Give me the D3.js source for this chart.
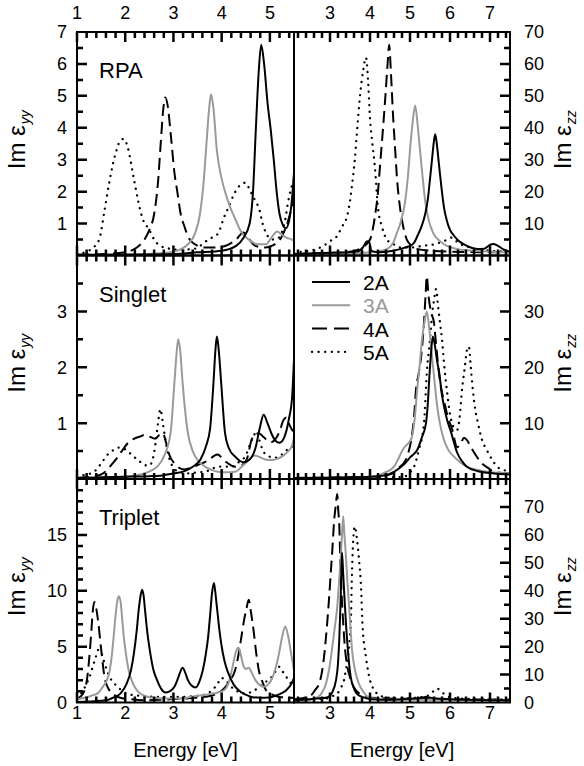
<!DOCTYPE html>
<html>
<head>
<meta charset="utf-8">
<script src="https://cdn.jsdelivr.net/npm/d3@7/dist/d3.min.js"></script>
<style>
  body { margin: 0; background: #fff; }
  text { font-family: "Liberation Sans", Arial, sans-serif; fill: #000; }
</style>
</head>
<body>
<svg id="chart" width="584" height="766"></svg>
<script>
// ---- data: [energy (eV), Im eps] ----
const seriesNames = ["2A", "3A", "4A", "5A"];
const panelLabels = ["RPA", "Singlet", "Triplet"];
const leftXTicks = [1, 2, 3, 4, 5];
const rightXTicks = [3, 4, 5, 6, 7];

// RPA, eps_yy
const rpaYY2A = [[1.0,0.02],[2.0,0.03],[3.0,0.05],[3.5,0.1],[4.0,0.15],[4.3,0.3],[4.45,0.55],[4.58,1.0],[4.65,2.0],[4.71,4.0],[4.77,5.8],[4.82,6.6],[4.88,6.0],[4.95,4.8],[5.02,3.9],[5.08,3.0],[5.14,2.0],[5.2,1.3],[5.27,0.95],[5.33,0.85],[5.4,1.1],[5.46,1.8],[5.5,2.6]];
const rpaYY3A = [[1.0,0.0],[2.0,0.02],[2.5,0.05],[3.0,0.12],[3.3,0.35],[3.45,0.7],[3.55,1.3],[3.62,2.2],[3.68,3.4],[3.74,4.6],[3.78,5.05],[3.83,4.6],[3.9,3.3],[4.0,2.4],[4.07,2.0],[4.18,1.5],[4.28,1.15],[4.4,0.75],[4.56,0.5],[4.75,0.35],[4.92,0.35],[5.05,0.6],[5.15,0.75],[5.25,0.65],[5.35,0.55],[5.46,0.5],[5.5,0.45]];
const rpaYY4A = [[1.0,0.02],[1.6,0.05],[2.0,0.1],[2.24,0.25],[2.4,0.5],[2.5,0.8],[2.6,1.3],[2.68,2.3],[2.74,3.6],[2.79,4.6],[2.83,4.95],[2.88,4.7],[2.95,3.7],[3.02,2.6],[3.08,2.0],[3.15,1.3],[3.23,0.9],[3.3,0.6],[3.4,0.4],[3.65,0.25],[3.9,0.25],[4.15,0.35],[4.3,0.5],[4.45,0.72],[4.55,0.55],[4.7,0.3],[4.9,0.25],[5.1,0.35],[5.25,0.6],[5.38,1.1],[5.5,1.8]];
const rpaYY5A = [[1.0,0.05],[1.2,0.12],[1.34,0.25],[1.46,0.5],[1.57,1.4],[1.67,2.3],[1.75,2.9],[1.82,3.3],[1.9,3.6],[1.97,3.65],[2.05,3.4],[2.18,2.4],[2.27,1.7],[2.35,1.2],[2.5,0.8],[2.6,0.5],[2.73,0.3],[2.9,0.22],[3.1,0.18],[3.4,0.2],[3.6,0.35],[3.72,0.5],[3.85,0.6],[3.93,0.7],[4.05,1.2],[4.14,1.5],[4.25,1.9],[4.35,2.15],[4.49,2.28],[4.6,2.0],[4.7,1.7],[4.77,1.5],[4.85,1.0],[4.92,0.7],[5.05,0.5],[5.18,0.55],[5.3,1.0],[5.4,1.85],[5.5,2.4]];

// RPA, eps_zz
const rpaZZ2A = [[2.1,0.5],[2.8,0.8],[3.4,1.0],[3.7,1.3],[3.82,2.5],[3.93,4.5],[3.98,4.2],[4.03,1.5],[4.2,1.0],[4.5,1.3],[4.75,2.0],[4.9,2.6],[5.0,3],[5.1,4],[5.2,6.5],[5.3,9.5],[5.38,13],[5.45,18],[5.5,24],[5.55,30],[5.6,36],[5.63,38],[5.67,35],[5.72,29],[5.78,22],[5.85,15],[5.92,11],[6.0,8],[6.08,6.5],[6.2,4.8],[6.35,3.5],[6.5,2.6],[6.7,2.0],[6.85,2.1],[6.98,3.2],[7.08,3.6],[7.2,3.0],[7.35,1.8],[7.5,1.2]];
const rpaZZ3A = [[2.1,0.3],[3.0,0.5],[3.8,0.8],[4.2,1.3],[4.42,2],[4.58,4],[4.67,7],[4.78,11],[4.88,17],[4.95,25],[5.0,33],[5.06,41],[5.13,47],[5.19,41],[5.25,33],[5.32,24],[5.38,17],[5.47,11],[5.58,7],[5.75,4.5],[5.92,3],[6.2,2],[6.6,1.5],[7.0,1.2],[7.5,1.0]];
const rpaZZ4A = [[2.1,0.5],[3.0,0.8],[3.5,1.2],[3.8,2.5],[4.0,5],[4.12,12],[4.2,20],[4.25,28],[4.32,39],[4.38,49],[4.44,60],[4.48,66],[4.52,58],[4.58,43],[4.63,33],[4.67,25],[4.74,16],[4.8,11],[4.92,5],[5.05,3],[5.2,2],[5.5,1.5],[6.0,1.2],[7.5,1.0]];
const rpaZZ5A = [[2.1,1],[2.5,1.5],[2.83,3],[3.0,4.5],[3.17,6],[3.3,9],[3.42,12],[3.5,17],[3.55,22],[3.62,30],[3.67,38],[3.75,50],[3.83,58],[3.9,62],[3.95,55],[4.0,43],[4.06,35],[4.12,28],[4.2,15],[4.3,9],[4.42,5],[4.6,3.5],[4.75,2.5],[5.0,2.5],[5.3,3],[5.6,3.5],[5.85,4.5],[6.05,5.6],[6.2,4],[6.5,2.5],[7.0,1.5],[7.5,1.2]];

// Singlet, eps_yy
const sinYY2A = [[1.0,0.02],[1.5,0.03],[2.0,0.04],[2.5,0.05],[2.73,0.06],[3.0,0.1],[3.23,0.14],[3.4,0.22],[3.56,0.35],[3.68,0.6],[3.76,0.9],[3.83,1.72],[3.87,2.3],[3.9,2.55],[3.94,2.3],[3.99,1.72],[4.07,0.82],[4.15,0.55],[4.28,0.4],[4.45,0.3],[4.58,0.35],[4.7,0.55],[4.8,0.95],[4.87,1.15],[4.95,1.0],[5.04,0.8],[5.12,0.68],[5.2,0.65],[5.3,0.75],[5.4,1.1],[5.46,1.45],[5.5,2.15]];
const sinYY3A = [[1.0,0.01],[1.5,0.02],[2.1,0.05],[2.56,0.16],[2.8,0.4],[2.94,0.82],[3.02,1.72],[3.07,2.3],[3.1,2.5],[3.14,2.3],[3.19,1.72],[3.3,0.82],[3.4,0.5],[3.5,0.34],[3.7,0.2],[3.92,0.13],[4.1,0.12],[4.28,0.13],[4.45,0.25],[4.56,0.34],[4.68,0.42],[4.77,0.4],[4.9,0.35],[5.04,0.34],[5.15,0.36],[5.25,0.4],[5.36,0.48],[5.46,0.6],[5.5,0.75]];
const sinYY4A = [[1.0,0.02],[1.2,0.03],[1.5,0.08],[1.74,0.28],[1.85,0.4],[1.97,0.55],[2.05,0.64],[2.18,0.72],[2.31,0.76],[2.4,0.79],[2.5,0.76],[2.62,0.72],[2.72,0.8],[2.78,0.82],[2.85,0.64],[2.92,0.42],[3.02,0.28],[3.12,0.2],[3.23,0.17],[3.35,0.2],[3.5,0.25],[3.65,0.3],[3.76,0.36],[3.85,0.42],[3.92,0.44],[4.0,0.38],[4.1,0.3],[4.28,0.22],[4.42,0.25],[4.52,0.35],[4.62,0.7],[4.7,0.8],[4.77,0.82],[4.87,0.75],[4.96,0.68],[5.04,0.66],[5.12,0.72],[5.2,0.85],[5.28,1.05],[5.34,1.1],[5.4,0.98],[5.46,0.88],[5.5,0.85]];
const sinYY5A = [[1.0,0.05],[1.2,0.08],[1.34,0.12],[1.45,0.22],[1.55,0.34],[1.65,0.45],[1.76,0.52],[1.85,0.56],[1.95,0.55],[2.05,0.5],[2.15,0.42],[2.28,0.33],[2.4,0.25],[2.5,0.24],[2.57,0.35],[2.63,0.65],[2.68,1.0],[2.73,1.25],[2.78,1.0],[2.83,0.72],[2.9,0.42],[3.02,0.18],[3.15,0.12],[3.3,0.1],[3.5,0.12],[3.65,0.13],[3.8,0.18],[3.92,0.22],[4.1,0.22],[4.2,0.22],[4.35,0.3],[4.5,0.42],[4.6,0.65],[4.68,0.8],[4.73,0.85],[4.78,0.7],[4.85,0.52],[4.95,0.42],[5.1,0.38],[5.19,0.4],[5.3,0.48],[5.4,0.55],[5.5,0.6]];

// Singlet, eps_zz
const sinZZ2A = [[2.1,0.2],[3.5,0.3],[4.2,0.5],[4.43,0.7],[4.6,1.3],[4.78,2.2],[4.9,3],[5.02,4],[5.1,4.5],[5.18,5.2],[5.3,7.5],[5.4,10],[5.45,14],[5.48,17.8],[5.52,22],[5.57,25.5],[5.62,24],[5.68,21],[5.73,19],[5.8,15],[5.85,13],[5.93,10.5],[6.03,8.3],[6.1,6.5],[6.18,4.7],[6.3,3.2],[6.42,2.2],[6.7,1.4],[7.1,1],[7.5,0.8]];
const sinZZ3A = [[2.1,0.2],[3.5,0.2],[4.03,0.3],[4.2,0.6],[4.35,1.1],[4.5,1.6],[4.6,2.2],[4.7,3.5],[4.78,4.7],[4.85,5.6],[4.92,6.1],[5.0,6.8],[5.05,7.6],[5.12,11],[5.18,16],[5.25,21],[5.3,25],[5.36,28],[5.42,30],[5.48,27],[5.55,22],[5.62,17],[5.68,13],[5.76,9.5],[5.85,7],[5.95,5.3],[6.1,4],[6.25,3],[6.42,2.2],[6.7,1.6],[6.92,1.3],[7.5,1.0]];
const sinZZ4A = [[2.1,0.2],[3.5,0.3],[4.18,0.4],[4.4,0.7],[4.6,1.1],[4.75,2.2],[4.85,2.9],[4.95,4.5],[5.03,7],[5.1,11],[5.15,16],[5.22,19],[5.28,22],[5.35,28],[5.39,33],[5.42,36.3],[5.46,33],[5.52,30],[5.6,28],[5.64,25],[5.68,22],[5.76,17],[5.85,14],[5.95,11],[6.05,9],[6.18,5.7],[6.28,6.5],[6.35,7.4],[6.42,7.0],[6.52,5.7],[6.65,4.2],[6.78,2.9],[6.95,2.0],[7.1,1.3],[7.5,1.0]];
const sinZZ5A = [[2.1,0.1],[4.0,0.2],[4.5,0.3],[4.85,0.4],[5.0,1.2],[5.1,2.2],[5.22,5.2],[5.35,10],[5.42,19],[5.5,25],[5.56,30],[5.6,32],[5.65,34],[5.7,31],[5.75,28],[5.8,25],[5.86,20],[5.92,16],[5.98,12.5],[6.05,10],[6.12,9],[6.18,8.8],[6.24,11],[6.3,16],[6.37,20],[6.42,23],[6.47,23.7],[6.52,20],[6.57,16],[6.63,12.5],[6.7,10],[6.8,7],[6.92,5.2],[7.05,3.5],[7.18,2.2],[7.35,1.6],[7.5,1.3]];

// Triplet, eps_yy
const triYY2A = [[1.0,0.05],[1.5,0.15],[1.65,0.25],[1.76,0.45],[1.9,0.8],[2.03,1.7],[2.12,2.9],[2.18,4.4],[2.24,6.5],[2.28,8.3],[2.32,9.6],[2.35,10.1],[2.38,9.6],[2.41,8.3],[2.46,6.2],[2.52,4.4],[2.58,3.0],[2.66,2.0],[2.75,1.2],[2.83,0.9],[2.92,1.0],[3.02,1.4],[3.08,2.0],[3.13,2.6],[3.19,3.1],[3.25,2.6],[3.3,2.0],[3.38,1.5],[3.46,1.35],[3.54,1.9],[3.61,2.9],[3.67,4.3],[3.72,5.9],[3.76,7.8],[3.8,9.8],[3.84,10.7],[3.87,9.8],[3.9,8.6],[3.95,6.6],[3.99,5.3],[4.06,3.7],[4.14,2.6],[4.25,1.6],[4.35,1.1],[4.5,0.7],[4.62,0.5],[4.8,0.42],[4.98,0.45],[5.15,0.65],[5.25,0.85],[5.34,1.1],[5.45,1.7],[5.5,2.2]];
const triYY3A = [[1.0,0.3],[1.3,0.6],[1.45,0.9],[1.55,1.5],[1.61,1.9],[1.68,2.9],[1.73,4.5],[1.76,5.9],[1.8,7.8],[1.84,9.2],[1.87,9.5],[1.91,8.8],[1.94,7.3],[1.97,5.9],[2.02,4.2],[2.07,2.9],[2.15,1.8],[2.24,1.1],[2.35,0.7],[2.52,0.45],[2.8,0.35],[3.08,0.35],[3.3,0.45],[3.5,0.6],[3.75,0.75],[3.92,0.9],[4.05,1.1],[4.14,1.7],[4.2,2.7],[4.24,3.5],[4.3,4.6],[4.35,4.9],[4.4,4.2],[4.45,3.3],[4.5,3.0],[4.56,3.1],[4.63,2.6],[4.7,2.0],[4.78,1.6],[4.87,1.4],[4.96,1.6],[5.04,2.1],[5.12,3.1],[5.19,4.4],[5.25,5.8],[5.32,6.8],[5.38,5.9],[5.44,4.4],[5.5,2.9]];
const triYY4A = [[1.0,0.3],[1.15,1.0],[1.22,2.5],[1.29,5.9],[1.33,8.3],[1.36,9.0],[1.4,8.4],[1.44,7.2],[1.51,4.4],[1.57,2.3],[1.67,1.1],[1.8,0.6],[1.88,0.45],[2.1,0.3],[2.39,0.2],[2.8,0.25],[3.2,0.35],[3.5,0.45],[3.78,0.6],[3.95,0.9],[4.07,1.35],[4.18,2.0],[4.28,2.9],[4.35,4.3],[4.41,5.9],[4.47,7.5],[4.51,8.3],[4.56,9.2],[4.6,8.3],[4.66,6.5],[4.72,4.3],[4.77,2.9],[4.85,1.8],[4.92,1.1],[5.05,0.7],[5.2,0.5],[5.35,0.45],[5.5,0.4]];
const triYY5A = [[1.0,0.4],[1.1,0.9],[1.2,1.7],[1.27,2.4],[1.34,3.4],[1.4,4.2],[1.44,4.7],[1.5,4.5],[1.55,3.8],[1.62,2.9],[1.7,2.1],[1.82,1.5],[1.92,1.1],[2.03,0.8],[2.3,0.6],[2.7,0.5],[3.08,0.5],[3.4,0.55],[3.65,0.7],[3.8,1.1],[3.92,1.7],[3.99,2.2],[4.08,2.0],[4.16,1.6],[4.25,1.2],[4.35,0.95],[4.49,0.8],[4.62,0.95],[4.77,1.35],[4.9,1.8],[5.04,2.3],[5.12,2.8],[5.19,3.2],[5.26,2.8],[5.34,2.3],[5.42,1.8],[5.5,1.5]];

// Triplet, eps_zz
const triZZ2A = [[2.1,0.8],[2.5,1.2],[2.75,1.5],[2.93,1.8],[3.05,3.5],[3.15,8],[3.2,14],[3.23,22],[3.26,34],[3.28,44],[3.3,53.7],[3.33,46],[3.36,38],[3.4,28],[3.43,22],[3.47,15],[3.52,9],[3.6,5],[3.67,3.2],[3.8,2],[4.03,1.2],[4.5,1],[5.2,1.5],[5.4,2],[5.6,1.5],[6.0,1.2],[7.5,0.8]];
const triZZ3A = [[2.1,0.5],[2.5,1.0],[2.68,1.8],[2.8,3.5],[2.9,6.8],[2.98,12],[3.05,19],[3.12,27],[3.18,34],[3.23,44],[3.27,52],[3.3,60],[3.33,66.7],[3.36,60],[3.4,52],[3.44,42],[3.48,34],[3.52,25],[3.55,19],[3.62,12],[3.72,6.8],[3.85,3.5],[4.03,1.5],[4.5,1.0],[7.5,0.8]];
const triZZ4A = [[2.1,1.2],[2.3,1.5],[2.52,2.5],[2.63,4.5],[2.73,6.8],[2.8,11],[2.85,16.2],[2.93,28.5],[2.98,38],[3.02,46.5],[3.06,55],[3.1,64.5],[3.14,70],[3.18,74.6],[3.21,68],[3.23,64.5],[3.25,55],[3.27,46.5],[3.3,36],[3.33,28.5],[3.37,20],[3.42,14],[3.5,9],[3.6,5.4],[3.75,3],[3.92,1.8],[4.3,1.5],[5.0,1.3],[7.5,1.0]];
const triZZ5A = [[2.1,1],[2.5,1.2],[2.93,1.5],[3.05,2.2],[3.18,3.2],[3.28,5.5],[3.35,8],[3.4,12],[3.45,16.2],[3.5,24],[3.52,28.5],[3.55,46.5],[3.58,58],[3.62,63],[3.67,59],[3.72,52],[3.78,40],[3.81,28.5],[3.9,16.2],[4.0,8],[4.08,5],[4.18,3.2],[4.42,1.8],[4.8,1.5],[5.2,1.8],[5.45,2.5],[5.6,4.2],[5.68,5],[5.78,4],[5.9,2.5],[6.15,1.5],[6.6,1.2],[7.5,1]];

// ---- layout ----
const svg = d3.select("#chart");
const top0 = 32, panelH = 223.5;
const xLeft = d3.scaleLinear().domain([1, 5.5]).range([77, 294]);
const xRight = d3.scaleLinear().domain([2.1, 7.5]).range([294, 510]);
const majorLen = 10, minorLen = 6;

const styles = [
  { color: "#000", dash: null, cap: "butt" },
  { color: "#9a9a9a", dash: null, cap: "butt" },
  { color: "#000", dash: "12,6", cap: "butt" },
  { color: "#000", dash: "0.1,6.5", cap: "round" }
];

const panels = [
  { row: 0, col: 0, yMax: 7,  major: [1,2,3,4,5,6,7], minorStep: 0.5, data: [rpaYY2A, rpaYY3A, rpaYY4A, rpaYY5A] },
  { row: 0, col: 1, yMax: 70, major: [10,20,30,40,50,60,70], minorStep: 5, data: [rpaZZ2A, rpaZZ3A, rpaZZ4A, rpaZZ5A] },
  { row: 1, col: 0, yMax: 4,  major: [1,2,3], minorStep: 0.5, data: [sinYY2A, sinYY3A, sinYY4A, sinYY5A] },
  { row: 1, col: 1, yMax: 40, major: [10,20,30], minorStep: 5, data: [sinZZ2A, sinZZ3A, sinZZ4A, sinZZ5A] },
  { row: 2, col: 0, yMax: 20, major: [0,5,10,15], minorStep: 1, data: [triYY2A, triYY3A, triYY4A, triYY5A] },
  { row: 2, col: 1, yMax: 80, major: [0,10,20,30,40,50,60,70], minorStep: 5, data: [triZZ2A, triZZ3A, triZZ4A, triZZ5A] }
];

function steps(lo, hi, step) {
  const out = [];
  for (let v = Math.ceil(lo / step - 1e-9) * step; v <= hi + 1e-9; v += step) out.push(+v.toFixed(3));
  return out;
}

// all tick marks of the figure go into one path, drawn last
const tickPath = d3.path();
function hTick(x, y, len) { tickPath.moveTo(x, y); tickPath.lineTo(x + len, y); }
function vTick(x, y, len) { tickPath.moveTo(x, y); tickPath.lineTo(x, y + len); }

panels.forEach((p, i) => {
  const x = p.col === 0 ? xLeft : xRight;
  const yTop = top0 + p.row * panelH, yBot = yTop + panelH;
  const y = d3.scaleLinear().domain([0, p.yMax]).range([yBot, yTop]);
  const [x0, x1] = x.range();
  const g = svg.append("g");

  g.append("clipPath").attr("id", "clip" + i)
    .append("rect").attr("x", x0).attr("y", yTop).attr("width", x1 - x0).attr("height", panelH);

  // curves
  const lineGen = d3.line().x(d => x(d[0])).y(d => y(d[1])).curve(d3.curveMonotoneX);
  const cg = g.append("g").attr("clip-path", `url(#clip${i})`);
  [3, 2, 1, 0].forEach(k => {
    cg.append("path")
      .attr("d", lineGen(p.data[k]))
      .attr("fill", "none")
      .attr("stroke", styles[k].color)
      .attr("stroke-width", k === 3 ? 2.3 : 2)
      .attr("stroke-dasharray", styles[k].dash)
      .attr("stroke-linecap", styles[k].cap);
  });

  // x ticks, inward on top and bottom edges
  const xMajor = p.col === 0 ? leftXTicks : rightXTicks;
  const [d0, d1] = x.domain();
  const xMinor = steps(d0, d1, 0.2).filter(v => v > d0 + 1e-6 && v < d1 - 1e-6 && !xMajor.includes(v));
  xMajor.forEach(v => { vTick(x(v), yTop, majorLen); vTick(x(v), yBot, -majorLen); });
  xMinor.forEach(v => { vTick(x(v), yTop, minorLen); vTick(x(v), yBot, -minorLen); });

  // y ticks, inward on the outer edge
  const xEdge = p.col === 0 ? x0 : x1;
  const dir = p.col === 0 ? 1 : -1;
  p.major.filter(v => v > 0 && v < p.yMax).forEach(v => hTick(xEdge, y(v), dir * majorLen));
  steps(0, p.yMax, p.minorStep)
    .filter(v => v > 0 && v < p.yMax && !p.major.includes(v))
    .forEach(v => hTick(xEdge, y(v), dir * minorLen));

  // y tick labels
  g.selectAll(null).data(p.major).join("text")
    .attr("x", p.col === 0 ? x0 - 10 : x1 + 14)
    .attr("y", d => y(d))
    .attr("dy", "0.36em")
    .attr("text-anchor", p.col === 0 ? "end" : "start")
    .attr("font-size", 18)
    .text(d => d);

  // frame
  g.append("rect").attr("x", x0).attr("y", yTop).attr("width", x1 - x0).attr("height", panelH)
    .attr("fill", "none").attr("stroke", "#000").attr("stroke-width", 2);

  // y title
  const tx = p.col === 0 ? 25 : 571;
  const t = g.append("text")
    .attr("transform", `translate(${tx},${(yTop + yBot) / 2 - 4}) rotate(-90)`)
    .attr("text-anchor", "middle").attr("font-size", 24);
  t.append("tspan").text("Im ε");
  t.append("tspan").attr("font-size", 14).attr("font-style", "italic").attr("dy", 5).attr("dx", 1)
    .text(p.col === 0 ? "yy" : "zz");

  // panel label
  if (p.col === 0) {
    g.append("text").attr("x", 99).attr("y", yTop + 46)
      .attr("font-size", 22).text(panelLabels[p.row]);
  }
});

svg.append("path")
  .attr("d", tickPath.toString())
  .attr("fill", "none")
  .attr("stroke", "#000")
  .attr("stroke-width", 2.5);

// x tick labels, top and bottom
[[xLeft, leftXTicks], [xRight, rightXTicks]].forEach(([x, tv]) => {
  svg.append("g").selectAll("text").data(tv).join("text")
    .attr("x", d => x(d)).attr("y", 19)
    .attr("text-anchor", "middle").attr("font-size", 18).text(d => d);
  svg.append("g").selectAll("text").data(tv).join("text")
    .attr("x", d => x(d)).attr("y", 719)
    .attr("text-anchor", "middle").attr("font-size", 18).text(d => d);
  svg.append("text").attr("x", d3.mean(x.range())).attr("y", 757)
    .attr("text-anchor", "middle").attr("font-size", 20).text("Energy [eV]");
});

// legend
const legend = svg.append("g").attr("transform", "translate(312,282)");
seriesNames.forEach((name, k) => {
  const row = legend.append("g").attr("transform", `translate(0,${k * 23.3})`);
  row.append("line").attr("x1", 0).attr("x2", 38).attr("y1", 0).attr("y2", 0)
    .attr("stroke", styles[k].color).attr("stroke-width", k === 3 ? 2.3 : 2)
    .attr("stroke-dasharray", k === 2 ? "15,7" : styles[k].dash)
    .attr("stroke-linecap", styles[k].cap);
  row.append("text").attr("x", 51).attr("y", 8).attr("font-size", 21)
    .style("fill", k === 1 ? styles[1].color : "#000").text(name);
});
</script>
</body>
</html>
